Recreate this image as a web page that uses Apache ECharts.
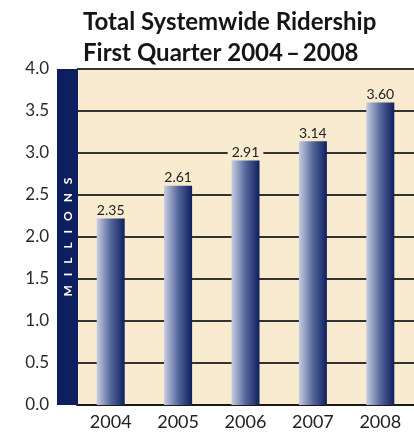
<!DOCTYPE html>
<html>
<head>
<meta charset="utf-8">
<script src="https://cdn.jsdelivr.net/npm/echarts@6/dist/echarts.min.js"></script>
<style>
  html, body { margin: 0; padding: 0; background: #ffffff; }
  #chart { width: 414px; height: 435px; }
</style>
</head>
<body>
<div id="chart"></div>
<script>
// categories and values
const years = ["2004", "2005", "2006", "2007", "2008"];
// bar heights as drawn (the 2004 bar sits lower than its printed label)
const barHeights = [2.22, 2.61, 2.91, 3.14, 3.6];
const valueLabels = ["2.35", "2.61", "2.91", "3.14", "3.60"];
const unitLabel = "MILLIONS";

const FONT = "Lato, 'Open Sans', sans-serif";
const NAVY = "#0d1f5e";
const BEIGE = "#f8ebd0";

const chart = echarts.init(document.getElementById("chart"), null, { renderer: "canvas" });

chart.setOption({
  backgroundColor: "#ffffff",
  animation: false,
  title: {
    text: "Total Systemwide Ridership\nFirst Quarter 2004\u2009\u2013\u20092008",
    left: 83,
    top: 7,
    padding: 0,
    textStyle: {
      color: "#151515",
      fontFamily: FONT,
      fontSize: 24,
      fontWeight: "bold",
      lineHeight: 31,
    },
  },
  grid: {
    left: 77,
    top: 69,
    width: 345,
    height: 336,
    backgroundColor: BEIGE,
    show: true,
    borderWidth: 0,
  },
  // navy unit strip on the left of the plot
  graphic: [
    {
      type: "rect",
      shape: { x: 57, y: 69, width: 21, height: 336 },
      style: { fill: NAVY },
      z: 10,
    },
    {
      type: "text",
      x: 68,
      y: 237,
      rotation: Math.PI / 2,
      style: {
        text: unitLabel.split("").join("\u2002 "),
        fill: "#ffffff",
        font: "bold 12px " + FONT,
        align: "center",
        verticalAlign: "middle",
      },
      z: 11,
    },
  ],
  xAxis: {
    type: "category",
    data: years,
    axisTick: { show: false },
    axisLine: { lineStyle: { color: "#1a1a1a", width: 2 } },
    axisLabel: {
      color: "#222222",
      fontFamily: FONT,
      fontSize: 18,
      margin: 8,
    },
  },
  yAxis: {
    type: "value",
    min: 0,
    max: 4,
    interval: 0.5,
    axisLine: { show: false },
    axisTick: { show: false },
    axisLabel: {
      color: "#2a2a2a",
      fontFamily: FONT,
      fontSize: 17,
      margin: 28,
      formatter: (value) => value.toFixed(1),
    },
    splitLine: {
      lineStyle: { color: "#333333", width: 1.8 },
    },
  },
  series: [
    {
      type: "bar",
      data: barHeights,
      barWidth: 28,
      itemStyle: {
        color: new echarts.graphic.LinearGradient(0, 0, 1, 0, [
          { offset: 0, color: "#c8cde2" },
          { offset: 0.5, color: "#56679c" },
          { offset: 1, color: "#0e1f5e" },
        ]),
      },
      label: {
        show: true,
        position: "top",
        distance: 1,
        color: "#222222",
        fontFamily: FONT,
        fontSize: 14,
        backgroundColor: BEIGE,
        padding: [0, 4, 0, 4],
        formatter: (params) => valueLabels[params.dataIndex],
      },
    },
  ],
});
</script>
</body>
</html>
